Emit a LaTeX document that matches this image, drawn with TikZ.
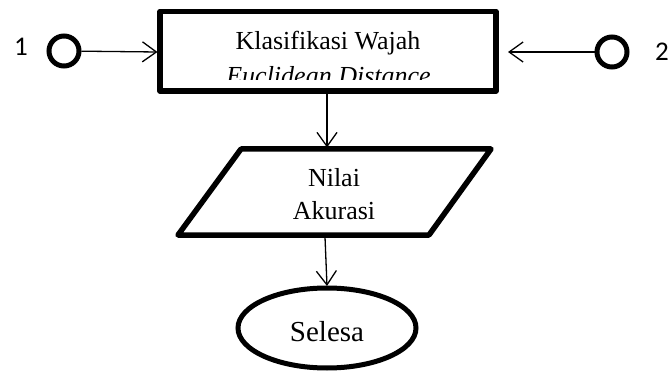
\documentclass[tikz,border=0pt]{standalone}
\usepackage{fontspec}
\setmainfont{Liberation Serif}
\newfontfamily\connfont{Carlito}
\usetikzlibrary{arrows.meta,shapes.geometric}
\begin{document}
\begin{tikzpicture}[x=1pt,y=-1pt,
  box/.style={line width=5.5pt,line join=round},
  flow/.style={line width=1.3pt,-{Straight Barb[length=14pt,width=20pt,line width=1.3pt]}},
  conn/.style={circle,draw,line width=5pt,minimum size=30pt,inner sep=0pt},
  conntext/.style={font=\connfont\fontsize{27}{30}\selectfont,inner sep=0pt,anchor=base},
  txt/.style={font=\fontsize{26}{33}\selectfont,inner sep=0pt,anchor=base}]
\useasboundingbox (0,0) rectangle (669,374);

% process box
\draw[box] (160,11.5) rectangle (496,91);
\coordinate (procL) at (157.5,52);
\coordinate (procR) at (508,52);
\coordinate (procB) at (327,94);
\node[txt] (proc1) at (328,49.5) {Klasifikasi Wajah};
\begin{scope}
  \clip (162,60) rectangle (494,80);
  \node[txt] (proc2) at (328.5,84.5) {\itshape Euclidean Distance};
\end{scope}

% off-page connectors
\node[conn] (c1) at (64,51) {};
\node[conntext] (l1) at (21,56) {1};
\node[conn] (c2) at (612,52) {};
\node[conntext] (l2) at (662,61) {2};

% data (parallelogram)
\draw[box] (241,149) -- (491,149) -- (429,235) -- (178,235) -- cycle;
\coordinate (dataT) at (327,147.5);
\coordinate (dataB) at (325,237);
\node[txt] (data1) at (334,186) {Nilai};
\node[txt] (data2) at (334,219) {Akurasi};

% terminator
\draw[line width=5pt] (327,328) ellipse [x radius=89, y radius=40];
\coordinate (endT) at (327,286);
\node[txt,font=\fontsize{29}{33}\selectfont] (endtext) at (327,341.5) {Selesa};

% connectors
\draw[flow] (c1) -- (procL);
\draw[flow] (c2) -- (procR);
\draw[flow] (procB) -- (dataT);
\draw[flow] (dataB) -- (endT);
\end{tikzpicture}
\end{document}
